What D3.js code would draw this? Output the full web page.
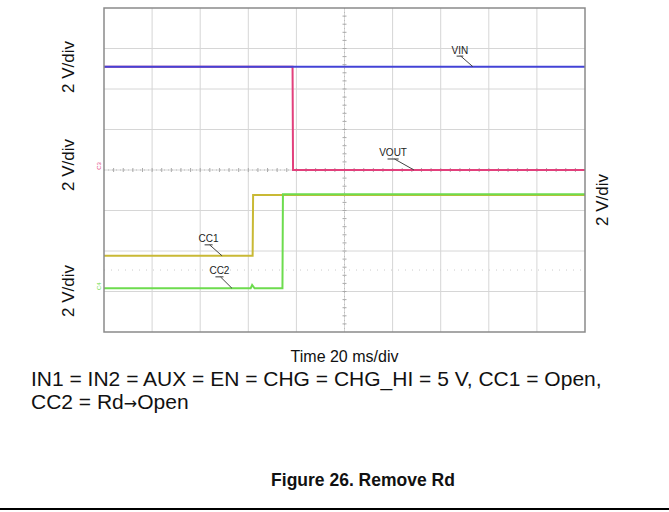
<!DOCTYPE html>
<html>
<head>
<meta charset="utf-8">
<script src="https://cdn.jsdelivr.net/npm/d3@7"></script>
<style>
  html, body { margin: 0; padding: 0; background: #fff; }
  #chart { width: 669px; height: 512px; }
</style>
</head>
<body>
<div id="chart"></div>
<script>
// scope settings: 10 horizontal divisions x 20 ms, 8 vertical divisions
const timeDomain = [0, 200];      // ms
const divDomain = [-4, 4];        // divisions from screen centre

// traces, [time ms, position in divisions]
const vinTrace = [[0, 2.55], [200, 2.55]];
const voutTrace = [[0, 2.55], [78.4, 2.55], [78.6, 0], [200, 0]];
const cc1Trace = [[0, -2.12], [61.8, -2.12], [62.0, -0.62], [200, -0.62]];
const cc2Trace = [[0, -2.92], [61.0, -2.92], [61.6, -2.84], [62.6, -2.92], [74.2, -2.92], [74.4, -0.6], [200, -0.6]];

const traceNames = ["VIN", "VOUT", "CC1", "CC2"];
const traceColors = ["#4343d6", "#e2407c", "#c9b935", "#6ddc4e"];

// annotation label centres [ms, div] and where each leader meets its trace
const labelPos = [[148.0, 2.96], [120.2, 0.42], [43.5, -1.70], [48.0, -2.49]];
const leaderEnd = [[153.4, 2.55], [128.9, 0], [49.1, -2.12], [53.2, -2.92]];

const yLabels = ["2 V/div", "2 V/div", "2 V/div", "2 V/div"];
const xLabel = "Time 20 ms/div";
const noteLine1 = "IN1 = IN2 = AUX = EN = CHG = CHG_HI = 5 V, CC1 = Open,";
const noteLine2 = ["CC2 = Rd", "\u2192", "Open"];
const figTitle = "Figure 26. Remove Rd";

const width = 669, height = 512;
const plot = { left: 104, right: 585, top: 8, bottom: 332 };

const svg = d3.select("#chart")
  .append("svg")
  .attr("width", width)
  .attr("height", height)
  .attr("font-family", "'Liberation Sans', Arial, sans-serif");

const xScale = d3.scaleLinear().domain(timeDomain).range([plot.left, plot.right]);
const yScale = d3.scaleLinear().domain(divDomain).range([plot.bottom, plot.top]);

// grid
const grid = svg.append("g");
grid.selectAll("line.v")
  .data(d3.range(20, 200, 20))
  .join("line")
  .attr("x1", d => xScale(d)).attr("x2", d => xScale(d))
  .attr("y1", plot.top).attr("y2", plot.bottom)
  .attr("stroke", "#d6d6d6").attr("stroke-width", 1);
grid.selectAll("line.h")
  .data(d3.range(-3, 4, 1))
  .join("line")
  .attr("x1", plot.left).attr("x2", plot.right)
  .attr("y1", d => yScale(d)).attr("y2", d => yScale(d))
  .attr("stroke", "#d6d6d6").attr("stroke-width", 1);

// centre cross with minor ticks
grid.append("line")
  .attr("x1", plot.left).attr("x2", plot.right)
  .attr("y1", yScale(0)).attr("y2", yScale(0))
  .attr("stroke", "#bbb").attr("stroke-dasharray", "1,3");
grid.append("line")
  .attr("x1", xScale(100)).attr("x2", xScale(100))
  .attr("y1", plot.top).attr("y2", plot.bottom)
  .attr("stroke", "#bbb").attr("stroke-dasharray", "1,3");
grid.selectAll("line.tx")
  .data(d3.range(4, 200, 4))
  .join("line")
  .attr("x1", d => xScale(d)).attr("x2", d => xScale(d))
  .attr("y1", yScale(0) - 2).attr("y2", yScale(0) + 2)
  .attr("stroke", "#aaa");
grid.selectAll("line.ty")
  .data(d3.range(-3.8, 4, 0.2))
  .join("line")
  .attr("x1", xScale(100) - 2).attr("x2", xScale(100) + 2)
  .attr("y1", d => yScale(d)).attr("y2", d => yScale(d))
  .attr("stroke", "#aaa");
// faint reference marker line
grid.append("line")
  .attr("x1", plot.left).attr("x2", plot.right)
  .attr("y1", yScale(-2.47)).attr("y2", yScale(-2.47))
  .attr("stroke", "#ccc").attr("stroke-dasharray", "1,6");

// traces: VOUT under VIN, CC1 under CC2
const line = d3.line().x(d => xScale(d[0])).y(d => yScale(d[1]));
const traces = [vinTrace, voutTrace, cc1Trace, cc2Trace];
svg.append("g")
  .selectAll("path")
  .data([1, 0, 2, 3])
  .join("path")
  .attr("d", i => line(traces[i]))
  .attr("fill", "none")
  .attr("stroke", i => traceColors[i])
  .attr("stroke-width", 2);

// frame
svg.append("rect")
  .attr("x", plot.left).attr("y", plot.top)
  .attr("width", plot.right - plot.left).attr("height", plot.bottom - plot.top)
  .attr("fill", "none").attr("stroke", "#8a8a8a").attr("stroke-width", 1.5);

// channel markers at left edge
svg.append("text")
  .attr("transform", `translate(${plot.left - 3},${yScale(0.1)}) rotate(-90)`)
  .attr("font-size", 6).attr("fill", "#e2407c").attr("text-anchor", "middle")
  .text("C3");
svg.append("text")
  .attr("transform", `translate(${plot.left - 3},${yScale(-2.87)}) rotate(-90)`)
  .attr("font-size", 6).attr("fill", "#6ddc4e").attr("text-anchor", "middle")
  .text("C4");

// trace annotations
const ann = svg.append("g").attr("font-size", 10).attr("fill", "#222");
traceNames.forEach((name, i) => {
  const tx = xScale(labelPos[i][0]);
  const ty = yScale(labelPos[i][1]);
  const t = ann.append("text")
    .attr("x", tx).attr("y", ty)
    .attr("text-anchor", "middle")
    .attr("dy", "0.35em")
    .text(name);
  const w = t.node().getComputedTextLength();
  const ux = tx - w / 2 + w * 0.3;
  ann.append("line")
    .attr("x1", ux).attr("x2", ux + w * 0.4)
    .attr("y1", ty + 6).attr("y2", ty + 6)
    .attr("stroke", "#333");
  ann.append("line")
    .attr("x1", ux + w * 0.25).attr("y1", ty + 6)
    .attr("x2", xScale(leaderEnd[i][0])).attr("y2", yScale(leaderEnd[i][1]))
    .attr("stroke", "#444");
});

// axis titles
const yTitlePos = [[68, 67], [68, 165], [68, 291], [602, 200]];
yLabels.forEach((txt, i) => {
  svg.append("text")
    .attr("transform", `translate(${yTitlePos[i][0]},${yTitlePos[i][1]}) rotate(-90)`)
    .attr("text-anchor", "middle")
    .attr("dy", "0.35em")
    .attr("font-size", 17)
    .attr("fill", "#111")
    .text(txt);
});

svg.append("text")
  .attr("x", (plot.left + plot.right) / 2).attr("y", 362)
  .attr("text-anchor", "middle")
  .attr("font-size", 16)
  .attr("fill", "#111")
  .text(xLabel);

svg.append("text")
  .attr("x", 31).attr("y", 386)
  .attr("font-size", 21)
  .attr("fill", "#111")
  .text(noteLine1);

const note2 = svg.append("text")
  .attr("x", 31).attr("y", 409)
  .attr("font-size", 21)
  .attr("fill", "#111");
note2.selectAll("tspan")
  .data(noteLine2)
  .join("tspan")
  .attr("font-family", (d, i) => i === 1 ? "'DejaVu Sans', sans-serif" : null)
  .attr("font-size", (d, i) => i === 1 ? 16 : null)
  .text(d => d);

svg.append("text")
  .attr("x", 363).attr("y", 486)
  .attr("text-anchor", "middle")
  .attr("font-size", 17.5)
  .attr("font-weight", "bold")
  .attr("fill", "#111")
  .text(figTitle);

svg.append("line")
  .attr("x1", 0).attr("x2", width)
  .attr("y1", 509).attr("y2", 509)
  .attr("stroke", "#000").attr("stroke-width", 2);
</script>
</body>
</html>
